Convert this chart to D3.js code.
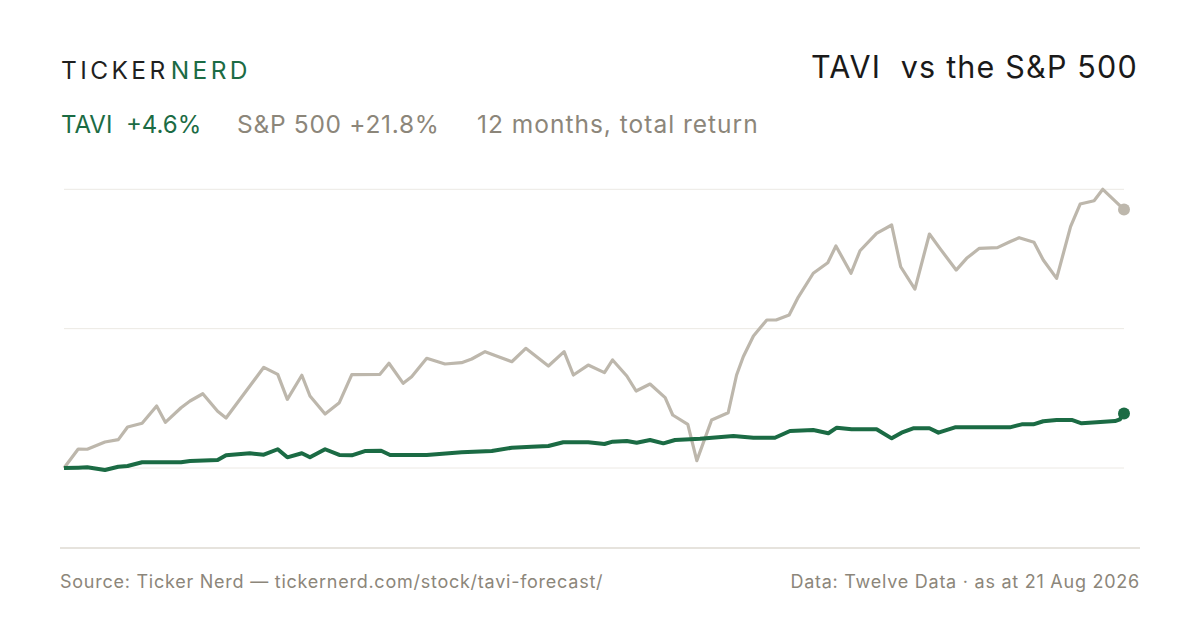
<!DOCTYPE html>
<html>
	<head>
		<meta charset="utf-8">
		<script type="text/javascript" src="https://d3js.org/d3.v7.min.js"></script>
		<style>
			html, body { margin: 0; padding: 0; background: #ffffff; }
			svg { display: block; font-family: "Inter", "Liberation Sans", sans-serif; }
		</style>
	</head>
	<body>
		<svg width="1200" height="630"></svg>
		<script type="text/javascript">
		// days since 21 Aug 2025 and cumulative total return in %
		var spxDays = [0, 4.9, 8.0, 14.1, 18.7, 21.9, 26.9, 31.9, 34.9, 40.3, 43.4, 47.8, 52.9, 55.8, 68.8, 73.6, 76.9, 81.9, 84.7, 89.9,
			94.8, 99.1, 108.8, 111.9, 116.8, 119.7, 124.9, 131.2, 136.9, 140.4, 145.0, 149.6, 154.2, 159.0, 166.8, 172.2, 175.4, 180.5, 186.1, 188.9,
			193.8, 197.0, 201.8, 207.0, 209.6, 214.8, 217.9, 223.0, 228.7, 231.6, 233.9, 237.4, 242.0, 245.2, 249.7, 252.8, 258.0, 263.0, 265.8, 271.0,
			274.1, 279.8, 285.0, 288.1, 293.0, 298.0, 301.6, 307.2, 310.8, 315.2, 321.4, 325.7, 328.9, 334.0, 337.2, 341.8, 346.6, 349.9, 354.7, 357.7,
			362.5, 365];
		var spxValues = [0, 1.60, 1.58, 2.19, 2.39, 3.46, 3.77, 5.23, 3.85, 5.08, 5.65, 6.26, 4.78, 4.22, 8.49, 7.90, 5.79, 7.82, 6.07, 4.55,
			5.51, 7.87, 7.90, 8.83, 7.14, 7.70, 9.25, 8.77, 8.88, 9.19, 9.81, 9.38, 8.96, 10.09, 8.60, 9.81, 7.84, 8.68, 8.04, 9.11,
			7.76, 6.49, 7.08, 5.93, 4.47, 3.68, 0.62, 4.05, 4.66, 7.84, 9.38, 11.13, 12.48, 12.48, 12.90, 14.39, 16.42, 17.31, 18.72, 16.42,
			18.32, 19.79, 20.49, 16.97, 15.09, 19.73, 18.52, 16.69, 17.68, 18.52, 18.58, 19.08, 19.42, 19.03, 17.54, 15.99, 20.35, 22.26, 22.54, 23.50,
			22.37, 21.8];

		var taviDays = [0, 4.9, 8.0, 14.1, 18.7, 21.9, 26.9, 40.3, 43.4, 52.9, 55.8, 64.0, 68.8, 73.6, 76.9, 81.9, 84.7, 89.9, 94.8, 99.1,
			103.6, 109.2, 112.3, 124.9, 136.9, 147.3, 154.2, 161.0, 166.8, 171.9, 180.5, 186.1, 188.9, 193.8, 197.2, 201.8, 206.4, 210.4, 219.0, 230.5,
			237.4, 244.8, 250.0, 258.0, 263.2, 266.1, 271.2, 279.8, 285.0, 288.4, 292.4, 298.0, 301.1, 306.8, 325.7, 329.8, 333.8, 337.2, 341.8, 347.0,
			350.4, 355.6, 361.9, 363.6, 365];
		var taviValues = [0, 0.03, 0.06, -0.17, 0.11, 0.17, 0.48, 0.48, 0.59, 0.67, 1.07, 1.24, 1.12, 1.58, 0.90, 1.24, 0.90, 1.58, 1.10, 1.07,
			1.43, 1.46, 1.10, 1.10, 1.32, 1.43, 1.71, 1.80, 1.85, 2.17, 2.17, 2.02, 2.22, 2.28, 2.13, 2.36, 2.08, 2.36, 2.47, 2.70,
			2.55, 2.55, 3.12, 3.20, 2.93, 3.40, 3.26, 3.26, 2.50, 2.98, 3.35, 3.35, 2.98, 3.43, 3.43, 3.68, 3.68, 3.94, 4.05, 4.05,
			3.77, 3.85, 3.96, 4.11, 4.6];

		var gridValues = [0, 11.75, 23.5];

		var green = "#1b6b44",
		    sand = "#bdb7ac",
		    muted = "#8c867a";

		var svg = d3.select("svg");

		var x = d3.scaleLinear().domain([0, 365]).range([64, 1124]),
		    y = d3.scaleLinear().domain([0, 23.5]).range([468, 189.3]);

		/** header **/
		var logo = svg.append("text")
			.attr("x", 61)
			.attr("y", 79)
			.attr("font-size", "24.5px")
			.attr("letter-spacing", "3.4px");
		logo.append("tspan").attr("fill", "#1f1f1f").text("TICKER");
		logo.append("tspan").attr("fill", green).attr("dx", 2).text("NERD");

		svg.append("text")
			.attr("x", 1138)
			.attr("y", 78)
			.attr("text-anchor", "end")
			.attr("font-size", "30.5px")
			.attr("letter-spacing", "1.2px")
			.attr("fill", "#1a1a1a")
			.style("white-space", "pre")
			.text("TAVI  vs the S&P 500");

		var sub = svg.append("g").attr("font-size", "24.5px");
		sub.append("text").attr("x", 61).attr("y", 133).attr("fill", green)
			.attr("font-size", "24px")
			.style("white-space", "pre").text("TAVI  +4.6%");
		sub.append("text").attr("x", 237).attr("y", 133).attr("fill", muted)
			.attr("letter-spacing", "0.7px")
			.text("S&P 500 +21.8%");
		sub.append("text").attr("x", 477).attr("y", 133).attr("fill", muted)
			.attr("letter-spacing", "1px")
			.text("12 months, total return");

		/** grid **/
		svg.append("g")
			.selectAll("line")
			.data(gridValues)
			.enter()
			.append("line")
			.attr("x1", x(0))
			.attr("x2", x(365))
			.attr("y1", function(d) { return y(d); })
			.attr("y2", function(d) { return y(d); })
			.attr("stroke", "#ece9e4")
			.attr("stroke-width", 1);

		svg.append("line")
			.attr("x1", 60).attr("x2", 1140)
			.attr("y1", 548).attr("y2", 548)
			.attr("stroke", "#dedad2")
			.attr("stroke-width", 1.5);

		/** lines **/
		var spx = spxDays.map(function(d, i) { return [d, spxValues[i]]; }),
		    tavi = taviDays.map(function(d, i) { return [d, taviValues[i]]; });

		var line = d3.line()
			.x(function(d) { return x(d[0]); })
			.y(function(d) { return y(d[1]); });

		svg.append("path")
			.datum(spx)
			.attr("d", line)
			.attr("fill", "none")
			.attr("stroke", sand)
			.attr("stroke-width", 3.2)
			.attr("stroke-linejoin", "round");

		svg.append("path")
			.datum(tavi)
			.attr("d", line)
			.attr("fill", "none")
			.attr("stroke", green)
			.attr("stroke-width", 4)
			.attr("stroke-linejoin", "round");

		svg.append("circle")
			.attr("cx", x(spx[spx.length - 1][0]))
			.attr("cy", y(spx[spx.length - 1][1]))
			.attr("r", 6)
			.attr("fill", sand);

		svg.append("circle")
			.attr("cx", x(tavi[tavi.length - 1][0]))
			.attr("cy", y(tavi[tavi.length - 1][1]))
			.attr("r", 6)
			.attr("fill", green);

		/** footer **/
		var foot = svg.append("g").attr("font-size", "18px").attr("letter-spacing", "0.75px").attr("fill", muted);
		foot.append("text").attr("x", 60).attr("y", 588)
			.text("Source: Ticker Nerd — tickernerd.com/stock/tavi-forecast/");
		foot.append("text").attr("x", 1140).attr("y", 588).attr("text-anchor", "end")
			.text("Data: Twelve Data · as at 21 Aug 2026");
		</script>
	</body>
</html>
